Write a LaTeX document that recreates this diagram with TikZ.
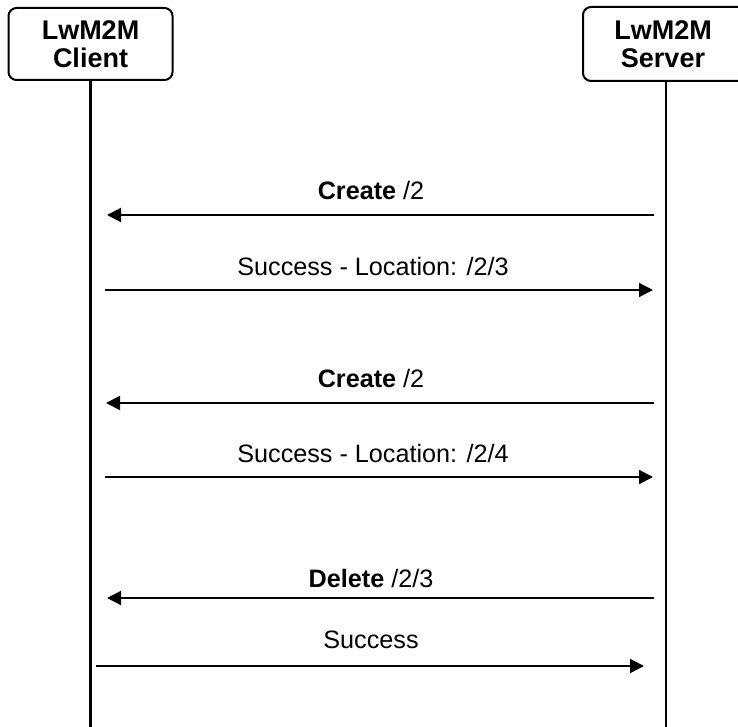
\documentclass[tikz,border=0pt]{standalone}
\usepackage{fontspec}
\setmainfont{Liberation Sans}
\usetikzlibrary{arrows.meta,positioning}

\tikzset{
  party/.style={draw, line width=1pt, rounded corners=4pt, minimum width=82pt, minimum height=36pt, align=center, inner sep=0pt, font=\fontsize{13.5}{14}\selectfont\bfseries},
  life/.style={line width=1.2pt},
  msg/.style={line width=1pt, -{Triangle[length=7pt,width=7pt]}},
  lbl/.style={anchor=base, inner sep=0pt, font=\fontsize{12.6}{14}\selectfont}
}

\begin{document}
\begin{tikzpicture}[x=0.5pt,y=-0.5pt]
			\useasboundingbox (0,0) rectangle (738,727);

			\node[party] (client) at (90.5,44) {LwM2M\\Client};
			\node[party, draw=none, minimum width=79pt] (server) at (663,44) {LwM2M\\Server};
			\coordinate (edge) at (738,0);
			% server box runs off the right edge
			\draw[line width=1pt, rounded corners=4pt] (server.north -| edge) -- (server.north west) -- (server.south west) -- (server.south -| edge);
			\coordinate (cend) at (90.5,727);
			\coordinate (send) at (666,727);
			\draw[life] (client.south) -- (cend);
			\draw[life] (server.south -| send) -- (send);

			\coordinate (c1) at (107,215); \coordinate (s1) at (654,215);
			\coordinate (c2) at (105,290); \coordinate (s2) at (653,290);
			\coordinate (c3) at (106,403); \coordinate (s3) at (654,403);
			\coordinate (c4) at (105,477); \coordinate (s4) at (653,477);
			\coordinate (c5) at (107,598); \coordinate (s5) at (654,598);
			\coordinate (c6) at (96,666);  \coordinate (s6) at (644,666);

			\draw[msg] (s1) -- (c1);
			\draw[msg] (c2) -- (s2);
			\draw[msg] (s3) -- (c3);
			\draw[msg] (c4) -- (s4);
			\draw[msg] (s5) -- (c5);
			\draw[msg] (c6) -- (s6);

			\node[lbl] (l1) at (371,199) {\textbf{Create} /2};
			\node[lbl] (l2) at (373,275) {Success - Location: /2/3};
			\node[lbl] (l3) at (371,387) {\textbf{Create} /2};
			\node[lbl] (l4) at (373,462) {Success - Location: /2/4};
			\node[lbl] (l5) at (371,587) {\textbf{Delete} /2/3};
			\node[lbl] (l6) at (371,648) {Success};
\end{tikzpicture}
\end{document}
